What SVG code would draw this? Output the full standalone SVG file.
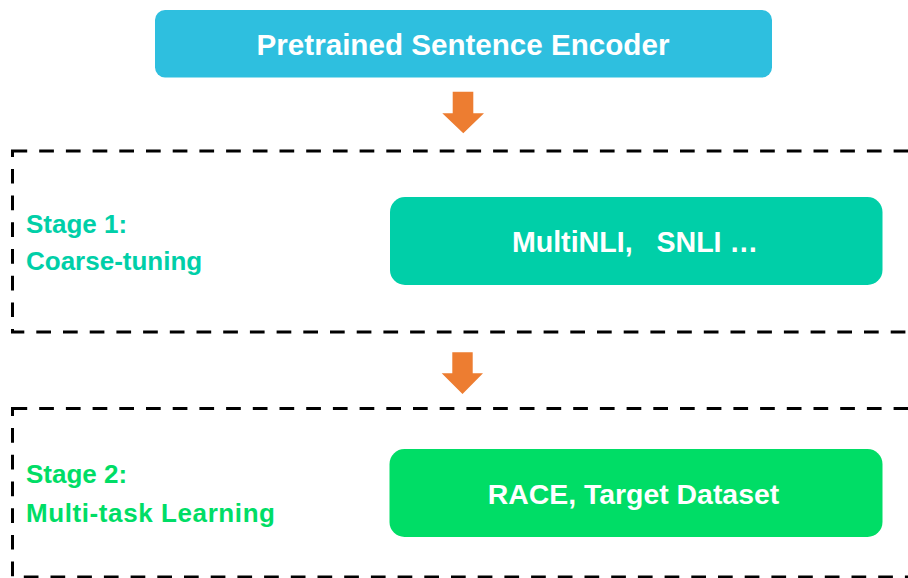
<svg xmlns="http://www.w3.org/2000/svg" width="908" height="578" viewBox="0 0 908 578">
  <style>
    .box-text { font-family: "Liberation Sans", Arial, sans-serif; font-weight: bold; fill: #ffffff; text-anchor: middle; white-space: pre; }
    .stage { font-family: "Liberation Sans", Arial, sans-serif; font-weight: bold; font-size: 26px; }
    .frame { fill: none; stroke: #000000; stroke-width: 3; stroke-dasharray: 14.7 12; }
    .flow { fill: #ED7D31; }
  </style>
  <rect width="908" height="578" fill="#ffffff"/>

  <!-- stage frames -->
  <rect class="frame" x="12.5" y="151" width="930" height="181"/>
  <rect class="frame" x="12.5" y="408.5" width="930" height="168.5"/>

  <g id="encoder">
    <rect x="155" y="10" width="617" height="67.5" rx="10" fill="#2EBFDF"/>
    <text class="box-text" x="463" y="55" font-size="29.6">Pretrained Sentence Encoder</text>
  </g>

  <g id="stage1-label">
    <text class="stage" fill="#00CFA8" x="26" y="233">Stage 1:</text>
    <text class="stage" fill="#00CFA8" x="26" y="270">Coarse-tuning</text>
  </g>

  <g id="stage1-data">
    <rect x="390" y="197" width="492.5" height="88" rx="15" fill="#00CFA8"/>
    <text class="box-text" x="635" y="251.7" font-size="28.6">MultiNLI,   SNLI …</text>
  </g>

  <g id="stage2-label">
    <text class="stage" fill="#00DD66" x="26" y="483">Stage 2:</text>
    <text class="stage" fill="#00DD66" x="26" y="522" textLength="249" lengthAdjust="spacing">Multi-task Learning</text>
  </g>

  <g id="stage2-data">
    <rect x="389.5" y="449" width="493" height="88" rx="15" fill="#00DD66"/>
    <text class="box-text" x="633.5" y="504" font-size="28.4">RACE, Target Dataset</text>
  </g>

  <g id="connectors">
    <polygon class="flow" points="452.7,91.7 473.3,91.7 473.3,113.3 484,113.3 463.3,133.3 442.3,113.3 452.7,113.3"/>
    <polygon class="flow" points="452.3,352.3 472.7,352.3 472.7,373.3 483,373.3 462.5,394 441.7,373.3 452.3,373.3"/>
  </g>
</svg>
